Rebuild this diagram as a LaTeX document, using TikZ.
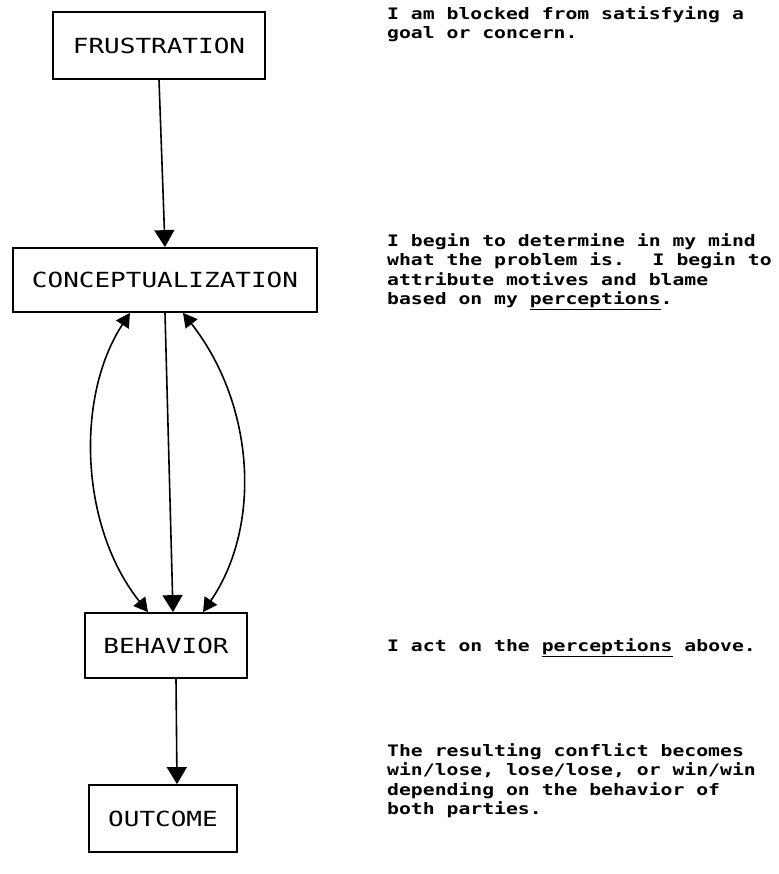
\documentclass[tikz,border=0pt]{standalone}
\usepackage{fontspec}
\newfontfamily\typer{DejaVu Sans Mono}[FakeStretch=1.25]
\usetikzlibrary{arrows.meta}

\begin{document}
\begin{tikzpicture}[x=1pt,y=-1pt,
      stage/.style={draw,line width=1.8pt,inner sep=0pt,
        font=\typer\fontsize{20.8}{24}\selectfont},
      remark/.style={anchor=north west,align=left,inner sep=0pt,
        font=\typer\bfseries\fontsize{15.8}{19.6}\selectfont},
      flow/.style={line width=1.6pt,-{Triangle[width=20pt,length=17pt]}},
      loop/.style={line width=1.6pt,
        {Triangle[width=15pt,length=14pt]}-{Triangle[width=15pt,length=14pt]}}]

    \useasboundingbox (0,0) rectangle (778,874);

    % --- Left column: the four stages -----------------------------------
    \node[stage,minimum width=212pt,minimum height=67pt] (frust) at (159,45.5)
      {FRUSTRATION};
    \node[stage,minimum width=304pt,minimum height=64pt] (concept) at (165,280)
      {CONCEPTUALIZATION};
    \node[stage,minimum width=162pt,minimum height=65pt] (behav) at (166,645.5)
      {BEHAVIOR};
    \node[stage,minimum width=148pt,minimum height=67pt] (outc) at (163,818.5)
      {OUTCOME};

    % --- Right column: what each stage means -----------------------------
    \node[remark] (nfrust) at (387,6)
      {I am blocked from satisfying a\\goal or concern.};
    \node[remark] (nconcept) at (387,233)
      {I begin to determine in my mind\\what the problem is.~ I begin to\\
       attribute motives and blame\\based on my \underline{perceptions}.};
    \node[remark] (nbehav) at (387,638)
      {I act on the \underline{perceptions} above.};
    \node[remark] (noutc) at (387,743)
      {The resulting conflict becomes\\win/lose, lose/lose, or win/win\\
       depending on the behavior of\\both parties.};

    % --- Arrows ----------------------------------------------------------
    \draw[flow] (frust.south) -- (concept.north);
    \draw[flow] (concept.south) -- ([xshift=7pt]behav.north);
    % Two-way curves either side of the straight arrow.
    \draw[loop] ([xshift=-35pt]concept.south)
      .. controls +(-55,84) and +(-68,-85) .. ([xshift=-18pt]behav.north);
    \draw[loop] ([xshift=18pt]concept.south)
      .. controls +(72,92) and +(59,-86) .. ([xshift=37pt]behav.north);
    \draw[flow] ([xshift=10pt]behav.south) -- ([xshift=14pt]outc.north);
  \end{tikzpicture}
\end{document}
